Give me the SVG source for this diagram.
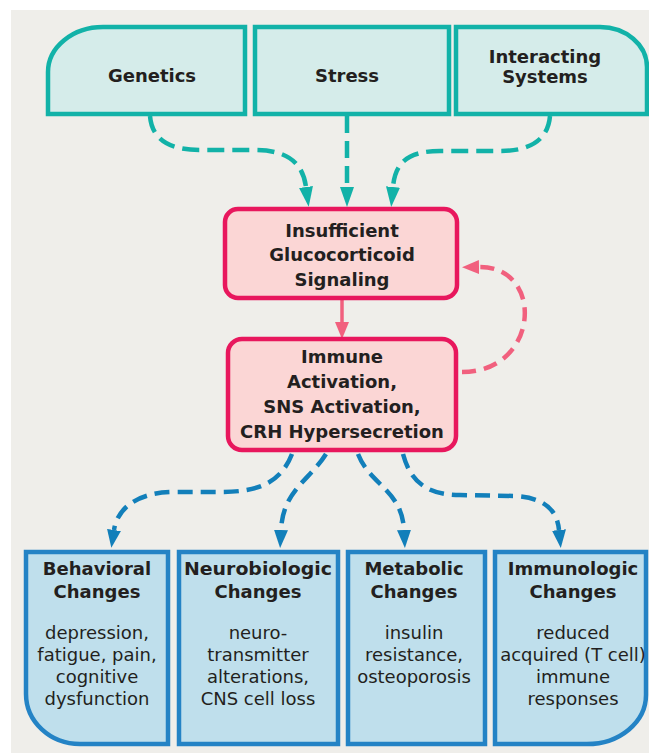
<svg xmlns="http://www.w3.org/2000/svg" width="649" height="753" viewBox="0 0 649 753">
<defs>
<style>
.t{font-family:"DejaVu Sans","Liberation Sans",sans-serif;fill:#231f20;text-anchor:middle}
.h{font-size:18px;font-weight:bold}
.b{font-size:18px}
.top{fill:#d5ecea;stroke:#12b2a8;stroke-width:4.5}
.pk{fill:#fbd6d5;stroke:#e8175d;stroke-width:4.5}
.bl{fill:#bfdfec;stroke:#2483c5;stroke-width:4.5}
.ct{fill:none;stroke:#12b2a8;stroke-width:4.5;stroke-dasharray:17 8}
.cb{fill:none;stroke:#127fba;stroke-width:4.5;stroke-dasharray:15 8}
.cp{fill:none;stroke:#f1607e;stroke-width:4.5;stroke-dasharray:14 8}
</style>
<marker id="mt" viewBox="0 0 20 14" refX="0" refY="7" markerWidth="20" markerHeight="14" markerUnits="userSpaceOnUse" orient="auto"><path d="M0,0 L20,7 L0,14 Z" fill="#12b2a8"/></marker>
<marker id="mb" viewBox="0 0 18 14" refX="0" refY="7" markerWidth="18" markerHeight="14" markerUnits="userSpaceOnUse" orient="auto"><path d="M0,0 L18,7 L0,14 Z" fill="#127fba"/></marker>
<marker id="mp" viewBox="0 0 17 14" refX="0" refY="7" markerWidth="17" markerHeight="14" markerUnits="userSpaceOnUse" orient="auto"><path d="M0,0 L17,7 L0,14 Z" fill="#f1607e"/></marker>
</defs>
<rect x="0" y="0" width="649" height="753" fill="#ffffff"/>
<rect x="11" y="10" width="638" height="743" fill="#efeeea"/>

<g id="connectors">
<path class="ct" d="M150 116 C152 140 170 150 200 150 L255 150 C290 150 303 165 306 187" marker-end="url(#mt)"/>
<path class="ct" d="M347 116 V187" marker-end="url(#mt)"/>
<path class="ct" d="M550 116 C548 140 530 151 500 151 L440 151 C405 151 395 165 393 187" marker-end="url(#mt)"/>
<path d="M342 300 V322" fill="none" stroke="#f1607e" stroke-width="3.5" marker-end="url(#mp)"/>
<path class="cp" d="M462 372 C540 372 545 266 479 267" marker-end="url(#mp)"/>
<path class="cb" d="M292 454 C280 485 255 492 220 492 L175 492 C135 492 117 510 114 530" marker-end="url(#mb)"/>
<path class="cb" d="M326 454 C310 480 283 490 281 530" marker-end="url(#mb)"/>
<path class="cb" d="M358 454 C370 485 402 490 404 530" marker-end="url(#mb)"/>
<path class="cb" d="M403 454 C410 480 425 495 460 495 L515 496 C545 498 557 510 559 530" marker-end="url(#mb)"/>
</g>

<g id="genetics">
<path class="top" d="M48 114 V72 A55 45 0 0 1 103 27 H245 V114 Z"/>
<text class="t h" x="152" y="82">Genetics</text>
</g>
<g id="stress">
<rect class="top" x="255" y="27" width="194" height="87"/>
<text class="t h" x="347" y="82">Stress</text>
</g>
<g id="interacting">
<path class="top" d="M456 114 V27 H600 A47 40 0 0 1 647 67 V114 Z"/>
<text class="t h" x="545" y="63">Interacting</text>
<text class="t h" x="545" y="83">Systems</text>
</g>

<g id="glucocorticoid">
<rect class="pk" x="225" y="209" width="232" height="89" rx="13"/>
<text class="t h" x="342" y="237">Insufficient</text>
<text class="t h" x="342" y="261">Glucocorticoid</text>
<text class="t h" x="342" y="286">Signaling</text>
</g>
<g id="activation">
<rect class="pk" x="228" y="339" width="228" height="111" rx="14"/>
<text class="t h" x="342" y="363">Immune</text>
<text class="t h" x="342" y="388">Activation,</text>
<text class="t h" x="342" y="413">SNS Activation,</text>
<text class="t h" x="342" y="438">CRH Hypersecretion</text>
</g>

<g id="behavioral">
<path class="bl" d="M26 552 H168 V744 H80 A54 50 0 0 1 26 694 Z"/>
<text class="t h" x="97" y="575">Behavioral</text>
<text class="t h" x="97" y="598">Changes</text>
<text class="t b" x="97" y="639">depression,</text>
<text class="t b" x="97" y="661">fatigue, pain,</text>
<text class="t b" x="97" y="683">cognitive</text>
<text class="t b" x="97" y="705">dysfunction</text>
</g>
<g id="neurobiologic">
<rect class="bl" x="179" y="552" width="159" height="192"/>
<text class="t h" x="258" y="575" textLength="148" lengthAdjust="spacingAndGlyphs">Neurobiologic</text>
<text class="t h" x="258" y="598">Changes</text>
<text class="t b" x="258" y="639">neuro-</text>
<text class="t b" x="258" y="661">transmitter</text>
<text class="t b" x="258" y="683">alterations,</text>
<text class="t b" x="258" y="705">CNS cell loss</text>
</g>
<g id="metabolic">
<rect class="bl" x="348" y="552" width="137" height="192"/>
<text class="t h" x="414" y="575">Metabolic</text>
<text class="t h" x="414" y="598">Changes</text>
<text class="t b" x="414" y="639">insulin</text>
<text class="t b" x="414" y="661">resistance,</text>
<text class="t b" x="414" y="683">osteoporosis</text>
</g>
<g id="immunologic">
<path class="bl" d="M495 552 H646 V695 A59 49 0 0 1 587 744 H495 Z"/>
<text class="t h" x="573" y="575">Immunologic</text>
<text class="t h" x="573" y="598">Changes</text>
<text class="t b" x="573" y="639">reduced</text>
<text class="t b" x="573" y="661">acquired (T cell)</text>
<text class="t b" x="573" y="683">immune</text>
<text class="t b" x="573" y="705">responses</text>
</g>
</svg>
